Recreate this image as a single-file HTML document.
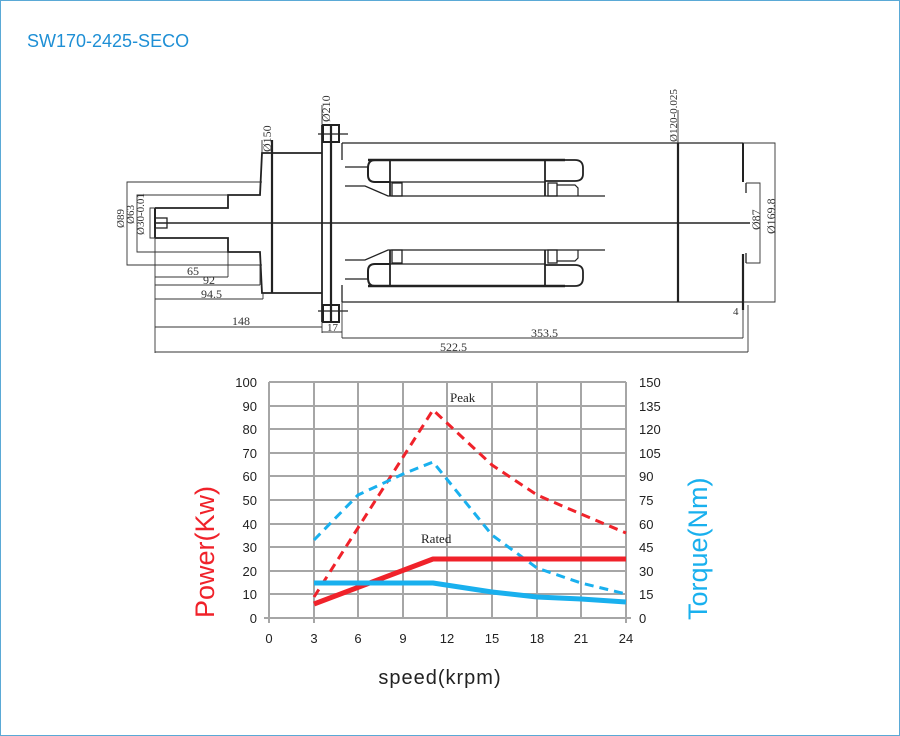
<!DOCTYPE html>
<html><head><meta charset="utf-8"><style>
body{margin:0;background:#fff;}
svg{display:block;}
</style></head><body>
<svg width="900" height="736" viewBox="0 0 900 736" xmlns="http://www.w3.org/2000/svg" font-family="Liberation Serif, serif">
<rect x="0.5" y="0.5" width="899" height="735" fill="#fff" stroke="#5aa9d6" stroke-width="1"/>
<text x="27" y="47" font-family="Liberation Sans, sans-serif" font-size="18" fill="#1e8fd5">SW170-2425-SECO</text>

<g stroke="#222" fill="none" stroke-width="1.3">
<!-- centerline -->
<line x1="155" y1="223" x2="750" y2="223" stroke-width="1.5"/>
<!-- shaft tip -->
<rect x="155" y="218" width="12" height="10"/>
<!-- left stepped profile -->
<polyline points="155,208 228,208 228,195 260,195 262,153 322,153" stroke-width="1.8"/>
<polyline points="155,238 228,238 228,252 260,252 262,293 322,293" stroke-width="1.8"/>
<line x1="155" y1="208" x2="155" y2="238" stroke-width="2"/>
<line x1="272" y1="140" x2="272" y2="293" stroke-width="2.2"/>
<!-- flange -->
<line x1="322" y1="125" x2="322" y2="322" stroke-width="1.8"/>
<line x1="331" y1="125" x2="331" y2="322" stroke-width="2.2"/>
<rect x="323" y="125" width="16" height="17" stroke-width="2"/>
<rect x="323" y="305" width="16" height="17" stroke-width="2"/>
<line x1="318" y1="134" x2="348" y2="134"/><line x1="318" y1="311" x2="348" y2="311"/>
<line x1="342" y1="143" x2="342" y2="160"/><line x1="342" y1="285" x2="342" y2="302"/>
<!-- body -->
<line x1="342" y1="143" x2="743" y2="143"/>
<line x1="342" y1="302" x2="743" y2="302"/>
<line x1="678" y1="143" x2="678" y2="302" stroke-width="2.2"/>
<polyline points="743,143 743,182" stroke-width="2"/>
<polyline points="743,254 743,310" stroke-width="2.2"/>
<line x1="746" y1="183" x2="746" y2="193"/><line x1="746" y1="253" x2="746" y2="263"/>
<!-- windings top -->
<line x1="368" y1="160" x2="565" y2="160" stroke-width="2.5"/>
<path d="M388 160 L375 160 Q368 160 368 168 L368 175 Q368 182 375 182 L390 182" stroke-width="2"/>
<path d="M545 160 L575 160 Q583 160 583 168 L583 174 Q583 181 575 181 L545 181" stroke-width="1.8"/>
<line x1="390" y1="159" x2="390" y2="196" stroke-width="1.8"/>
<line x1="545" y1="159" x2="545" y2="196" stroke-width="1.8"/>
<line x1="390" y1="182" x2="545" y2="182"/>
<rect x="392" y="183" width="10" height="13"/><rect x="548" y="183" width="9" height="13"/>
<path d="M557 185 L575 185 L578 188 L578 196" stroke-width="1.2"/>
<line x1="345" y1="167" x2="368" y2="167"/>
<polyline points="345,186 365,186 388,196 605,196"/>
<!-- windings bottom -->
<line x1="368" y1="286" x2="565" y2="286" stroke-width="2.5"/>
<path d="M388 286 L375 286 Q368 286 368 278 L368 271 Q368 264 375 264 L390 264" stroke-width="2"/>
<path d="M545 286 L575 286 Q583 286 583 278 L583 272 Q583 265 575 265 L545 265" stroke-width="1.8"/>
<line x1="390" y1="250" x2="390" y2="287" stroke-width="1.8"/>
<line x1="545" y1="250" x2="545" y2="287" stroke-width="1.8"/>
<line x1="390" y1="264" x2="545" y2="264"/>
<rect x="392" y="250" width="10" height="13"/><rect x="548" y="250" width="9" height="13"/>
<path d="M557 261 L575 261 L578 258 L578 250" stroke-width="1.2"/>
<line x1="345" y1="279" x2="368" y2="279"/>
<polyline points="345,260 365,260 388,250 605,250"/>
</g>

<!-- dimension lines -->
<g stroke="#333" fill="none" stroke-width="0.9">
<polyline points="262,182 127,182 127,265 262,265"/>
<polyline points="228,195 137,195 137,252 228,252"/>
<polyline points="155,208 150,208 150,238 155,238"/>
<line x1="155" y1="228" x2="155" y2="353"/>
<line x1="155" y1="277" x2="228" y2="277"/><line x1="228" y1="252" x2="228" y2="277"/>
<line x1="155" y1="285" x2="260" y2="285"/><line x1="260" y1="265" x2="260" y2="285"/>
<line x1="155" y1="299" x2="263" y2="299"/><line x1="263" y1="293" x2="263" y2="299"/>
<line x1="155" y1="327" x2="322" y2="327"/>
<line x1="322" y1="322" x2="322" y2="333"/><line x1="342" y1="302" x2="342" y2="338"/>
<line x1="322" y1="332" x2="342" y2="332"/>
<line x1="342" y1="338" x2="743" y2="338"/><line x1="743" y1="310" x2="743" y2="338"/>
<line x1="155" y1="352" x2="748" y2="352"/><line x1="748" y1="305" x2="748" y2="352"/>
<polyline points="743,143 775,143 775,302 743,302"/>
<polyline points="746,183 760,183 760,263 746,263"/>
<line x1="678" y1="110" x2="678" y2="143"/>
<line x1="322" y1="105" x2="322" y2="125"/>
<line x1="262" y1="140" x2="262" y2="153"/>
</g>
<g font-size="12" fill="#333">
<text x="187" y="275">65</text>
<text x="203" y="284">92</text>
<text x="201" y="298">94.5</text>
<text x="232" y="325">148</text>
<text x="327" y="331" font-size="11">17</text>
<text x="531" y="337">353.5</text>
<text x="440" y="351">522.5</text>
<text x="733" y="315" font-size="11">4</text>
<text transform="translate(124,228) rotate(-90)" font-size="11">Ø89</text>
<text transform="translate(134,224) rotate(-90)" font-size="11">Ø63</text>
<text transform="translate(144,235) rotate(-90)" font-size="11">Ø30-0.01</text>
<text transform="translate(271,152) rotate(-90)" font-size="12">Ø150</text>
<text transform="translate(330,122) rotate(-90)" font-size="12">Ø210</text>
<text transform="translate(677,142) rotate(-90)" font-size="11">Ø120-0.025</text>
<text transform="translate(760,230) rotate(-90)" font-size="12">Ø87</text>
<text transform="translate(775,234) rotate(-90)" font-size="12">Ø169.8</text>
</g>

<!-- chart -->
<g stroke="#a6a6a6" stroke-width="2">
<line x1="269" y1="382" x2="626" y2="382"/><line x1="269" y1="406" x2="626" y2="406"/>
<line x1="269" y1="429" x2="626" y2="429"/><line x1="269" y1="453" x2="626" y2="453"/>
<line x1="269" y1="476" x2="626" y2="476"/><line x1="269" y1="500" x2="626" y2="500"/>
<line x1="269" y1="524" x2="626" y2="524"/><line x1="269" y1="547" x2="626" y2="547"/>
<line x1="269" y1="571" x2="626" y2="571"/><line x1="269" y1="594" x2="626" y2="594"/>
<line x1="264" y1="618" x2="631" y2="618"/>
<line x1="269" y1="382" x2="269" y2="623"/><line x1="314" y1="382" x2="314" y2="623"/>
<line x1="358" y1="382" x2="358" y2="618"/><line x1="403" y1="382" x2="403" y2="618"/>
<line x1="447" y1="382" x2="447" y2="618"/><line x1="492" y1="382" x2="492" y2="618"/>
<line x1="537" y1="382" x2="537" y2="618"/><line x1="581" y1="382" x2="581" y2="618"/>
<line x1="626" y1="382" x2="626" y2="623"/>
</g>
<g font-family="Liberation Sans, sans-serif" font-size="13" fill="#222">
<g text-anchor="end">
<text x="257" y="387">100</text><text x="257" y="411">90</text><text x="257" y="434">80</text>
<text x="257" y="458">70</text><text x="257" y="481">60</text><text x="257" y="505">50</text>
<text x="257" y="529">40</text><text x="257" y="552">30</text><text x="257" y="576">20</text>
<text x="257" y="599">10</text><text x="257" y="623">0</text>
</g>
<text x="639" y="387">150</text><text x="639" y="411">135</text><text x="639" y="434">120</text>
<text x="639" y="458">105</text><text x="639" y="481">90</text><text x="639" y="505">75</text>
<text x="639" y="529">60</text><text x="639" y="552">45</text><text x="639" y="576">30</text>
<text x="639" y="599">15</text><text x="639" y="623">0</text>
<g text-anchor="middle">
<text x="269" y="643">0</text><text x="314" y="643">3</text><text x="358" y="643">6</text>
<text x="403" y="643">9</text><text x="447" y="643">12</text><text x="492" y="643">15</text>
<text x="537" y="643">18</text><text x="581" y="643">21</text><text x="626" y="643">24</text>
</g>
<text x="440" y="684" text-anchor="middle" font-size="20" letter-spacing="1">speed(krpm)</text>
<text transform="translate(214,618) rotate(-90)" font-size="27" fill="#f0222a">Power(Kw)</text>
<text transform="translate(707,620) rotate(-90)" font-size="27" fill="#19b0ee">Torque(Nm)</text>
</g>
<text x="450" y="402" font-size="13" fill="#222">Peak</text>
<text x="421" y="543" font-size="13" fill="#222">Rated</text>
<g fill="none" stroke-linejoin="round">
<polyline points="314,597 433,410 492,465 537,495 581,514 626,533" stroke="#f0222a" stroke-width="3" stroke-dasharray="9,6"/>
<polyline points="314,540 358,495 403,474 433,462 492,535 537,568 581,583 626,594" stroke="#19b0ee" stroke-width="3" stroke-dasharray="9,6"/>
<polyline points="314,604 433,559 626,559" stroke="#f0222a" stroke-width="5"/>
<polyline points="314,583 433,583 492,592 537,597 581,599 626,602" stroke="#19b0ee" stroke-width="5"/>
</g>
</svg>
</body></html>
